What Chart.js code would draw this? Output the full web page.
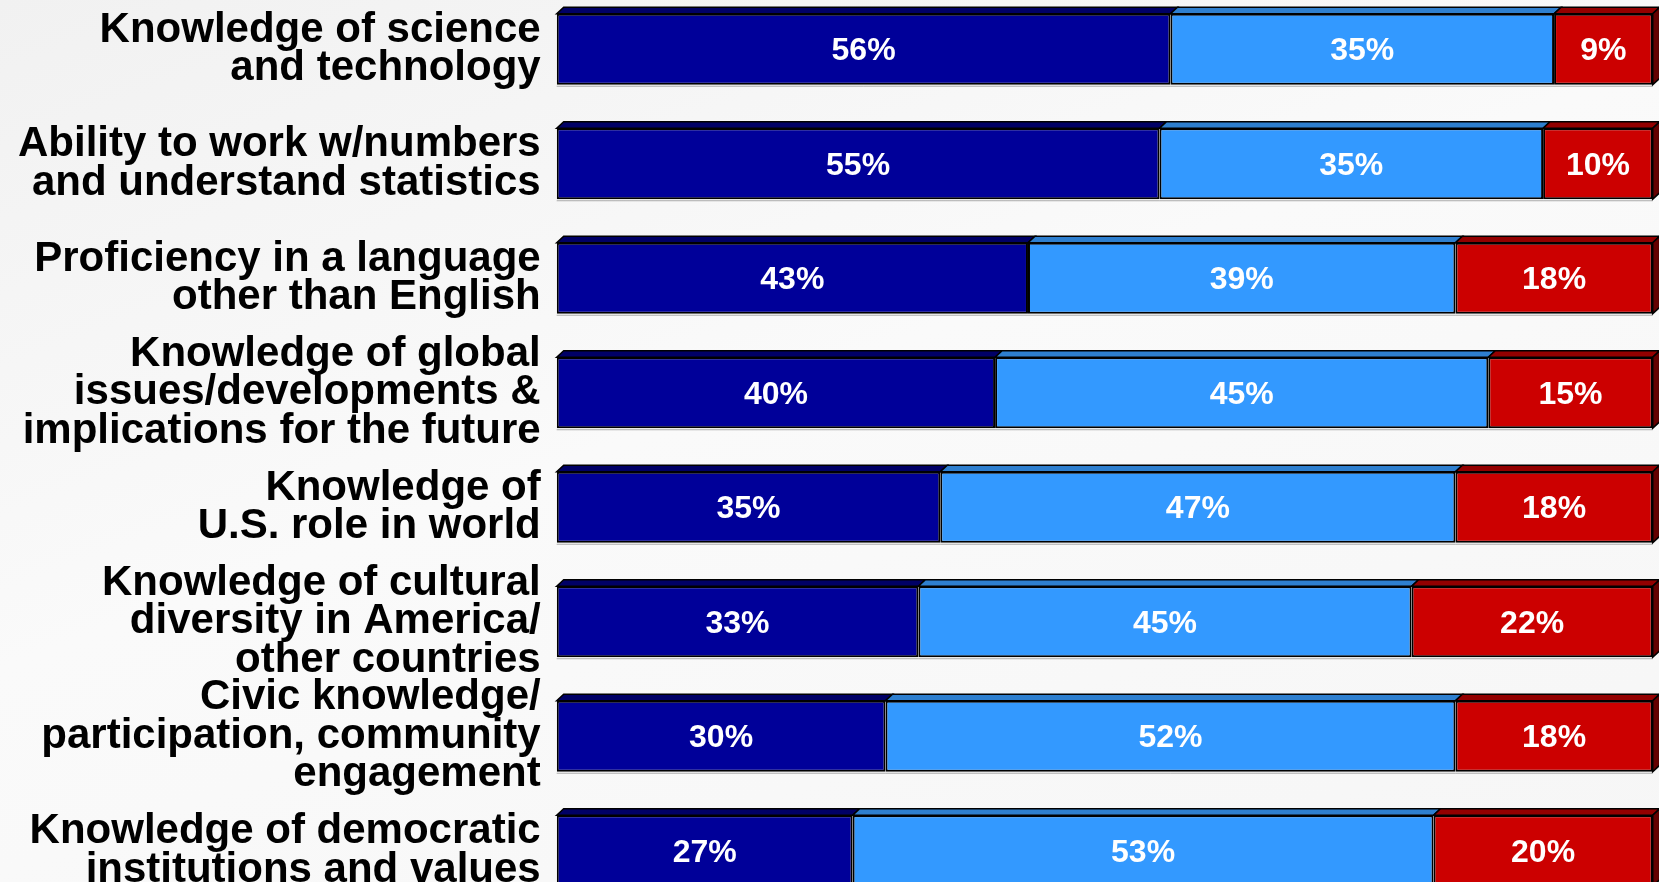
<!DOCTYPE html>
<html>
<head>
<meta charset="utf-8">
<script src="https://cdn.jsdelivr.net/npm/chart.js@4"></script>
<style>
  html, body { margin: 0; padding: 0; width: 1659px; height: 882px; overflow: hidden;
    background: linear-gradient(160deg, #f1f1f1 0%, #fafafa 45%, #f6f6f6 100%); }
  #wrap { position: absolute; left: 0; top: -8px; width: 1659px; height: 916px; }
</style>
</head>
<body>
<div id="wrap"><canvas id="c"></canvas></div>
<script>
const categories = [
  ["Knowledge of science", "and technology"],
  ["Ability to work w/numbers", "and understand statistics"],
  ["Proficiency in a language", "other than English"],
  ["Knowledge of global", "issues/developments &", "implications for the future"],
  ["Knowledge of", "U.S. role in world"],
  ["Knowledge of cultural", "diversity in America/", "other countries"],
  ["Civic knowledge/", "participation, community", "engagement"],
  ["Knowledge of democratic", "institutions and values"]
];
const veryImportant     = [56, 55, 43, 40, 35, 33, 30, 27];
const somewhatImportant = [35, 35, 39, 45, 47, 45, 52, 53];
const notImportant      = [9, 10, 18, 15, 18, 22, 18, 20];

const seriesNames = ["Very important", "Somewhat important", "Not important"];
const frontColors = ["#000099", "#3399FF", "#CC0000"];
const topColors   = ["#000066", "#2E7FCF", "#930000"];
const sideColors  = ["#000050", "#1F5C99", "#640000"];

const depth3d = {
  id: 'depth3d',
  afterDatasetsDraw(chart) {
    const ctx = chart.ctx;
    const dx = 7, dy = 6.5;
    const n = chart.data.datasets.length;
    ctx.save();
    chart.data.datasets.forEach((ds, i) => {
      const meta = chart.getDatasetMeta(i);
      meta.data.forEach(bar => {
        const p = bar.getProps(['x', 'y', 'base', 'height'], true);
        const top = p.y - p.height / 2, bottom = p.y + p.height / 2;
        const l = Math.min(p.base, p.x), r = Math.max(p.base, p.x);
        ctx.lineWidth = 1.6;
        ctx.strokeStyle = '#000000';
        ctx.lineJoin = 'miter';
        ctx.beginPath();
        ctx.moveTo(l, top);
        ctx.lineTo(l + dx, top - dy);
        ctx.lineTo(r + dx, top - dy);
        ctx.lineTo(r, top);
        ctx.closePath();
        ctx.fillStyle = topColors[i];
        ctx.fill();
        ctx.stroke();
        if (i === n - 1) {
          ctx.beginPath();
          ctx.moveTo(r, top);
          ctx.lineTo(r + dx, top - dy);
          ctx.lineTo(r + dx, bottom - dy);
          ctx.lineTo(r, bottom);
          ctx.closePath();
          ctx.fillStyle = sideColors[i];
          ctx.fill();
          ctx.stroke();
        }
        ctx.beginPath();
        ctx.strokeStyle = 'rgba(120,120,120,0.6)';
        ctx.lineWidth = 1;
        ctx.moveTo(l, bottom + 1.5);
        ctx.lineTo(r, bottom + 1.5);
        ctx.stroke();
      });
    });
    ctx.fillStyle = '#FFFFFF';
    ctx.font = 'bold 32px "Liberation Sans", Arial, sans-serif';
    ctx.textAlign = 'center';
    ctx.textBaseline = 'middle';
    chart.data.datasets.forEach((ds, i) => {
      const meta = chart.getDatasetMeta(i);
      meta.data.forEach((bar, j) => {
        const p = bar.getProps(['x', 'y', 'base'], true);
        ctx.fillText(ds.data[j] + '%', (p.x + p.base) / 2, p.y + 2);
      });
    });
    ctx.restore();
  }
};

new Chart(document.getElementById('c'), {
  type: 'bar',
  data: {
    labels: categories,
    datasets: [
      { label: seriesNames[0], data: veryImportant, backgroundColor: frontColors[0] },
      { label: seriesNames[1], data: somewhatImportant, backgroundColor: frontColors[1] },
      { label: seriesNames[2], data: notImportant, backgroundColor: frontColors[2] }
    ].map(d => Object.assign(d, {
      borderColor: '#000000', borderWidth: 2, borderSkipped: false,
      categoryPercentage: 1.0, barPercentage: 0.62
    }))
  },
  options: {
    indexAxis: 'y',
    responsive: true,
    maintainAspectRatio: false,
    animation: false,
    layout: { padding: { left: 0, right: 6.3, top: 0, bottom: 0 } },
    plugins: { legend: { display: false }, tooltip: { enabled: false } },
    scales: {
      x: { stacked: true, min: 0, max: 100, display: false },
      y: {
        stacked: true,
        grid: { display: false, drawTicks: false },
        border: { display: false },
        afterFit: (scale) => { scale.width = 556.7; scale.paddingTop = 0; scale.paddingBottom = 0; },
        ticks: {
          autoSkip: false,
          padding: 16,
          color: '#000000',
          font: { family: '"Liberation Sans", Arial, sans-serif', size: 42, weight: 'bold', lineHeight: 0.915 }
        }
      }
    }
  },
  plugins: [depth3d]
});
</script>
</body>
</html>
